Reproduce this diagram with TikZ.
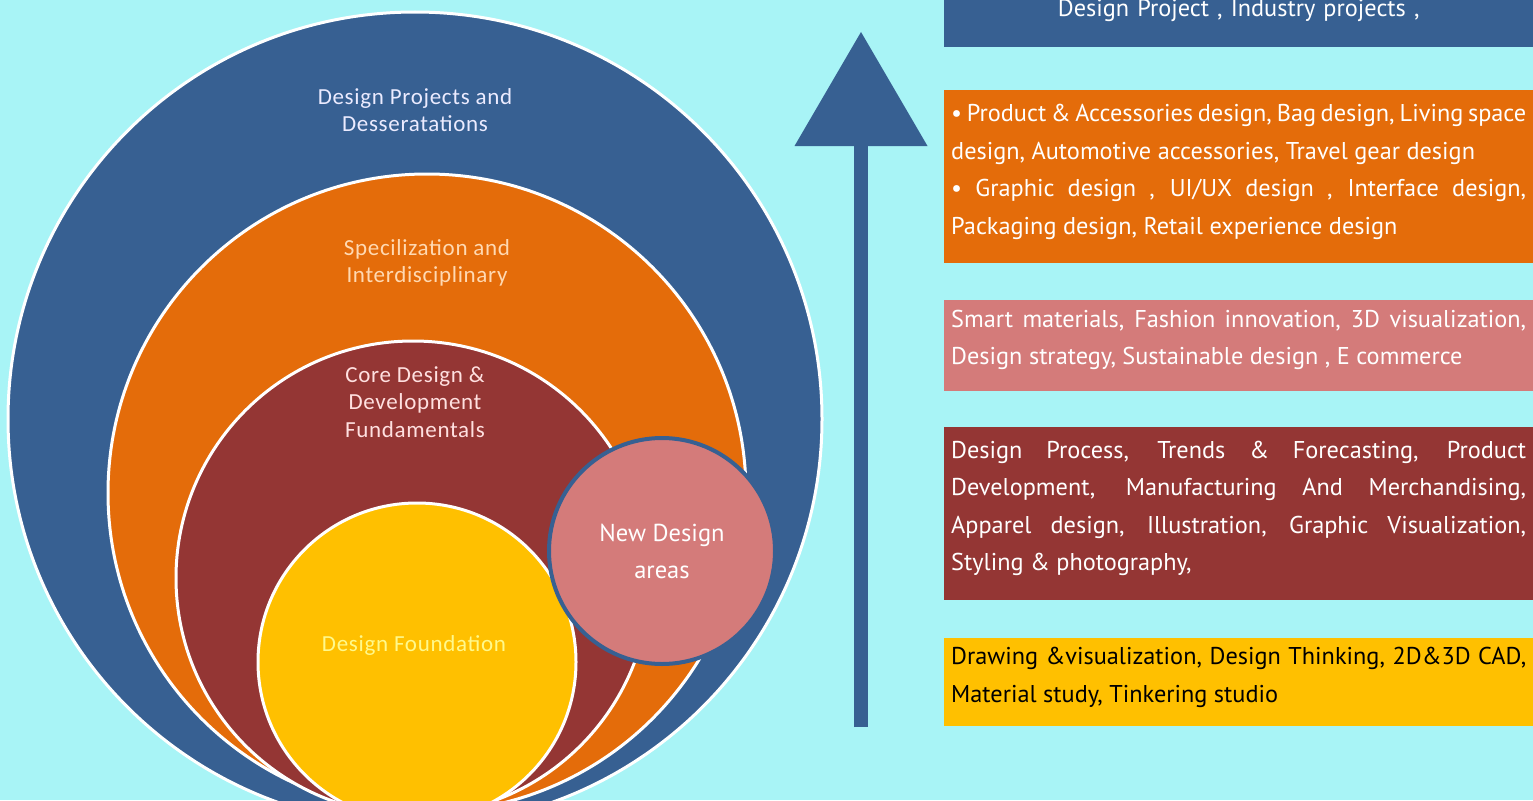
\documentclass[tikz,border=0pt]{standalone}
\usepackage{fontspec}
\setmainfont{PT Sans}
\newfontfamily\ringfont[LetterSpace=3]{Carlito}
\usetikzlibrary{arrows.meta,positioning}

\definecolor{bgcyan}{HTML}{A8F4F6}
\definecolor{dpblue}{HTML}{376092}
\definecolor{dporange}{HTML}{E46C0A}
\definecolor{dpred}{HTML}{943634}
\definecolor{dppink}{HTML}{D47B7A}
\definecolor{dpyellow}{HTML}{FFC000}

\tikzset
{
    ring/.style      = {circle, draw=white, line width=3pt, inner sep=0pt, minimum size=#1},
    ringlabel/.style = {align=center, font=\ringfont\fontsize{23}{27.5}\selectfont},
    panel/.style     = {rectangle, inner xsep=7pt, inner ysep=0pt, text width=575pt, align=justify, text=white, font=\fontsize{24.3}{37.5}\selectfont, minimum height=#1, execute at end node={\par\vspace{10pt}}},
    growth/.style    = {line width=14pt, draw=dpblue, -{Triangle[width=133pt,length=114pt,line width=0pt]}}
}

\begin{document}
\begin{tikzpicture}[x=1pt, y=-1pt]
	\useasboundingbox (0,0) rectangle (1533,800);
	\clip (0,0) rectangle (1533,800);
	\fill[bgcyan] (0,0) rectangle (1533,800);

	% nested circles
	\node (outer)  [ring=814, fill=dpblue]   at (415,419) {};
	\node (spec)   [ring=638, fill=dporange] at (427,493) {};
	\node (core)   [ring=474, fill=dpred]    at (413,578) {};
	\node (found)  [ring=318, fill=dpyellow] at (417,662) {};
	\node (newarea) [circle, draw=dpblue, line width=4pt, fill=dppink, minimum size=226, inner sep=0pt, align=center, text=white, font=\fontsize{24.5}{37}\selectfont] at (662,551) {New Design\\areas};

	\node (l1) [ringlabel, text=blue!8!white]     at (415,110) {Design Projects and\\Desseratations};
	\node (l2) [ringlabel, text=orange!30!white]  at (427,263) {Specilization and\\Interdisciplinary};
	\node (l3) [ringlabel, text=red!12!white]     at (415,402) {Core Design \&\\Development\\Fundamentals};
	\node (l4) [ringlabel, text=yellow!45!white]  at (414,645) {Design Foundation};

	% arrow
	\coordinate (arrowfoot) at (861,727);
	\coordinate (arrowtip)  at (861,32);
	\draw [growth] (arrowfoot) -- (arrowtip);

	% panels
	\node (pblue) [panel=62, fill=dpblue, anchor=south west, align=center] at (944,47) {Design Project , Industry projects ,};
	\node (porange) [panel=173, fill=dporange, below=43pt of pblue] {\textbullet\ Product \& Accessories design, Bag design, Living space\linebreak design, Automotive accessories, Travel gear design\par
		\textbullet\ Graphic design , UI/UX design , Interface design,\linebreak Packaging design, Retail experience design};
	\node (ppink) [panel=91, fill=dppink, below=36pt of porange] {Smart materials, Fashion innovation, 3D visualization,\linebreak Design strategy, Sustainable design , E commerce};
	\node (pred) [panel=173, fill=dpred, below=36pt of ppink] {Design Process, Trends \& Forecasting, Product\linebreak Development, Manufacturing And Merchandising,\linebreak Apparel design, Illustration, Graphic Visualization,\linebreak Styling \& photography,};
	\node (pyellow) [panel=88, fill=dpyellow, text=black, below=38pt of pred] {Drawing \&visualization, Design Thinking, 2D\&3D CAD,\linebreak Material study, Tinkering studio};

\end{tikzpicture}
\end{document}
